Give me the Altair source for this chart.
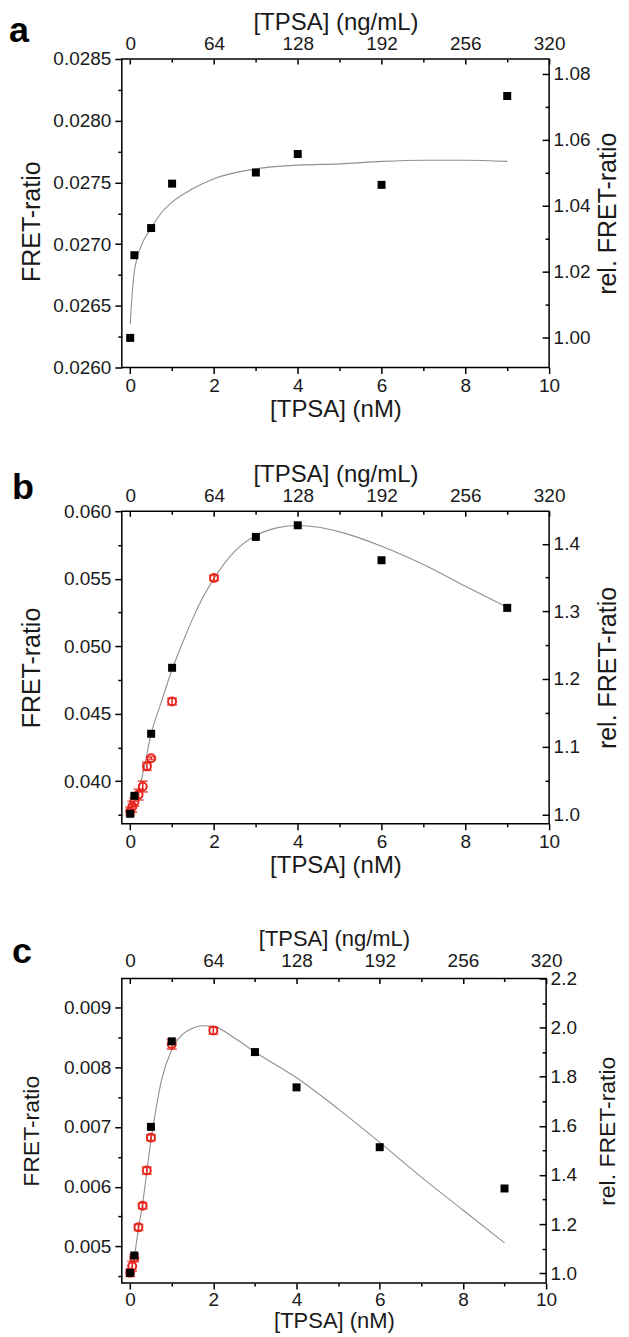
import altair as alt
import pandas as pd

FONT = "Liberation Sans"
RED = "#e8261e"
GREY = "#909090"
XDOM = [-0.2, 10]

# ---------------- panel a ----------------
a_x = [0, 0.1, 0.5, 1, 3, 4, 6, 9]
a_y = [0.02624, 0.02691, 0.02713, 0.02749, 0.02758, 0.02773, 0.02748, 0.02820]
a_fit_x = [0, 0.05, 0.1, 0.16, 0.28, 0.5, 0.76, 1, 1.5, 2, 3, 4, 5, 6, 7, 8, 9]
a_fit_y = [0.02635, 0.02661, 0.02678, 0.02688, 0.02700, 0.02713, 0.02726, 0.02734,
           0.02745, 0.02753, 0.02761, 0.02764, 0.02765, 0.02767, 0.02768, 0.02768, 0.02767]
a_ydom = [0.0260, 0.0285]
a_rdom = [0.991, 1.0845]
a_yt = [0.0260, 0.0265, 0.0270, 0.0275, 0.0280, 0.0285]
a_ym = [0.02625, 0.02675, 0.02725, 0.02775, 0.02825]
a_rt = [1.00, 1.02, 1.04, 1.06, 1.08]
a_rm = [1.01, 1.03, 1.05, 1.07]

# ---------------- panel b ----------------
b_x = [0, 0.1, 0.5, 1, 3, 4, 6, 9]
b_y = [0.03758, 0.03891, 0.04351, 0.04840, 0.05810, 0.05896, 0.05637, 0.05284]
b_red_x = [0, 0.05, 0.1, 0.2, 0.3, 0.4, 0.5, 1, 2]
b_red_y = [0.03775, 0.03810, 0.03845, 0.03900, 0.03960, 0.04110, 0.04170, 0.04590, 0.05506]
b_red_err = [0.0003, 0.0004, 0.0003, 0.0004, 0.0004, 0.0003, 0.0001, 0.00025, 0.0002]
b_fit_x = [0, 0.1, 0.28, 0.5, 0.75, 1, 1.25, 1.5, 1.75, 2, 2.5, 3, 3.5, 4, 4.5, 5, 6, 7, 8, 9]
b_fit_y = [0.03745, 0.03852, 0.04025, 0.04351, 0.04593, 0.04827, 0.05025, 0.05210, 0.05370,
           0.05501, 0.05704, 0.05820, 0.05877, 0.05894, 0.05881, 0.05847, 0.05741, 0.05605,
           0.05444, 0.05289]
b_ydom = [0.03684, 0.0600]
b_rdom = [0.986, 1.448]
b_yt = [0.040, 0.045, 0.050, 0.055, 0.060]
b_ym = [0.0375, 0.0425, 0.0475, 0.0525, 0.0575]
b_rt = [1.0, 1.1, 1.2, 1.3, 1.4]
b_rm = [1.05, 1.15, 1.25, 1.35]

# ---------------- panel c ----------------
c_x = [0, 0.1, 0.5, 1, 3, 4, 6, 9]
c_y = [0.00456, 0.00485, 0.00700, 0.00843, 0.00825, 0.00766, 0.00666, 0.00597]
c_red_x = [0, 0.05, 0.1, 0.2, 0.3, 0.4, 0.5, 1, 2]
c_red_y = [0.00456, 0.00467, 0.00481, 0.00532, 0.00568, 0.00627, 0.00682, 0.00838, 0.00861]
c_red_err = [0.00006, 0.00008, 0.00006, 0.00005, 0.00005, 0.00006, 0.00005, 0.00008, 0.00006]
c_fit_x = [0, 0.1, 0.2, 0.3, 0.4, 0.5, 0.6, 0.75, 1, 1.25, 1.5, 1.75, 2, 2.5, 3, 4, 5, 6, 7, 8, 9]
c_fit_y = [0.00453, 0.00483, 0.00530, 0.00572, 0.00624, 0.00677, 0.00721, 0.00777, 0.00829,
           0.00854, 0.00865, 0.00869, 0.00868, 0.00849, 0.00825, 0.00782, 0.00730, 0.00674,
           0.00616, 0.00561, 0.00506]
c_ydom = [0.00439, 0.00948]
c_rdom = [0.96, 2.2]
c_yt = [0.005, 0.006, 0.007, 0.008, 0.009]
c_ym = [0.0045, 0.0055, 0.0065, 0.0075, 0.0085]
c_rt = [1.0, 1.2, 1.4, 1.6, 1.8, 2.0, 2.2]
c_rm = [1.1, 1.3, 1.5, 1.7, 1.9, 2.1]

x_major = [0, 2, 4, 6, 8, 10]
x_minor = [1, 3, 5, 7, 9]

LEFT_TITLE_CX = 31
RIGHT_TITLE_CX = 607
PLOT_LEFT = 121


def xenc(field, axis=None):
    return alt.X(field, type="quantitative",
                 scale=alt.Scale(domain=XDOM, nice=False, zero=False), axis=axis)


def yenc(field, dom, axis=None):
    return alt.Y(field, type="quantitative",
                 scale=alt.Scale(domain=dom, nice=False, zero=False), axis=axis)


def axis_layer(dom, xaxis, yaxis):
    df = pd.DataFrame({"x": [XDOM[0] + 0.01], "y": [dom[0] + (dom[1] - dom[0]) * 0.01]})
    return alt.Chart(df).mark_point(opacity=0, size=1).encode(
        x=xenc("x", xaxis), y=yenc("y", dom, yaxis))


def panel(letter, ldx, ldy, bx, by, fx, fy, rx, ry, rerr, ydom, rdom, yt, ym, rt, rm,
          yfmt, rfmt, W, H, bottom_dy, top_dy, vtitle_size, left_dy, htitle_size, blabel_pad,
          tlabel_pad):
    layers = []
    fit = pd.DataFrame({"x": fx, "y": fy})
    layers.append(alt.Chart(fit).mark_line(color=GREY, strokeWidth=1.1, interpolate="monotone")
                  .encode(x=xenc("x"), y=yenc("y", ydom)))
    if rx is not None:
        red = pd.DataFrame({"x": rx, "y": ry,
                            "lo": [v - e for v, e in zip(ry, rerr)],
                            "hi": [v + e for v, e in zip(ry, rerr)]})
        layers.append(alt.Chart(red).mark_rule(color=RED, strokeWidth=1.6)
                      .encode(x=xenc("x"), y=yenc("lo", ydom), y2="hi"))
        layers.append(alt.Chart(red).mark_tick(color=RED, orient="horizontal", size=10, thickness=1.8)
                      .encode(x=xenc("x"), y=yenc("lo", ydom)))
        layers.append(alt.Chart(red).mark_tick(color=RED, orient="horizontal", size=10, thickness=1.8)
                      .encode(x=xenc("x"), y=yenc("hi", ydom)))
        layers.append(alt.Chart(red).mark_point(shape="circle", filled=False, color=RED,
                                                 strokeWidth=2, size=64, opacity=1)
                      .encode(x=xenc("x"), y=yenc("y", ydom)))
    blk = pd.DataFrame({"x": bx, "y": by})
    layers.append(alt.Chart(blk).mark_square(color="black", size=64, opacity=1)
                  .encode(x=xenc("x"), y=yenc("y", ydom)))

    # bottom + left (outward, labelled)
    layers.append(axis_layer(
        ydom,
        alt.Axis(orient="bottom", values=x_major, format="d", tickSize=6, labelPadding=blabel_pad,
                 title="[TPSA] (nM)", titleY=bottom_dy, titleBaseline="middle",
                 titleFontSize=htitle_size),
        alt.Axis(orient="left", values=yt, format=yfmt, tickSize=7, labelPadding=4,
                 title="FRET-ratio", titleX=LEFT_TITLE_CX - PLOT_LEFT, titleY=H / 2 + left_dy,
                 titleBaseline="middle", titleFontSize=vtitle_size)))
    # bottom + left minor
    layers.append(axis_layer(
        ydom,
        alt.Axis(orient="bottom", values=x_minor, labels=False, tickSize=3, title=None),
        alt.Axis(orient="left", values=ym, labels=False, tickSize=4, title=None)))
    # top + right labels
    layers.append(axis_layer(
        rdom,
        alt.Axis(orient="top", values=x_major, ticks=False, labelPadding=tlabel_pad,
                 labelExpr="format(datum.value * 32, 'd')",
                 title="[TPSA] (ng/mL)", titleY=top_dy, titleBaseline="middle",
                 titleFontSize=htitle_size),
        alt.Axis(orient="right", values=rt, format=rfmt, ticks=False, labelPadding=4,
                 title="rel. FRET-ratio", titleAngle=270,
                 titleX=RIGHT_TITLE_CX - (PLOT_LEFT + W), titleY=H / 2,
                 titleBaseline="middle", titleFontSize=vtitle_size)))
    # top + right inward major ticks
    layers.append(axis_layer(
        rdom,
        alt.Axis(orient="bottom", offset=-H, values=x_major, labels=False, tickSize=5, title=None),
        alt.Axis(orient="left", offset=-W, values=rt, labels=False, tickSize=7, title=None)))
    # top + right inward minor ticks
    layers.append(axis_layer(
        rdom,
        alt.Axis(orient="bottom", offset=-H, values=x_minor, labels=False, tickSize=3, title=None),
        alt.Axis(orient="left", offset=-W, values=rm, labels=False, tickSize=4, title=None)))
    # panel letter
    layers.append(alt.Chart(pd.DataFrame({"t": [letter]})).mark_text(
        align="left", baseline="alphabetic", fontSize=36, fontWeight="bold", font=FONT,
        color="black").encode(text="t:N", x=alt.value(ldx), y=alt.value(ldy)))

    return alt.layer(*layers).resolve_scale(x="independent", y="independent").properties(
        width=W, height=H)


pa = panel("a", -113, -17, a_x, a_y, a_fit_x, a_fit_y, None, None, None,
           a_ydom, a_rdom, a_yt, a_ym, a_rt, a_rm, ".4f", ".2f", 428, 309, 42, -37, 25, 8, 24, 3, 6)
pb = panel("b", -110, -12, b_x, b_y, b_fit_x, b_fit_y, b_red_x, b_red_y, b_red_err,
           b_ydom, b_rdom, b_yt, b_ym, b_rt, b_rm, ".3f", ".1f", 428, 313, 42, -37, 25, 0, 24, 3, 6)
pc = panel("c", -110, -16, c_x, c_y, c_fit_x, c_fit_y, c_red_x, c_red_y, c_red_err,
           c_ydom, c_rdom, c_yt, c_ym, c_rt, c_rm, ".3f", ".1f", 425, 305, 38, -40, 23, 0, 22, 2, 8)

chart = alt.vconcat(alt.vconcat(pa, pb, spacing=39), pc, spacing=48).properties(
    padding={"left": 0, "top": 0, "right": 0, "bottom": 0}
).configure_view(
    stroke="black", strokeWidth=1.5
).configure_axis(
    grid=False, domain=False, labelFont=FONT, titleFont=FONT, labelFontSize=19,
    titleFontSize=24, titleFontWeight="normal", labelColor="#1a1a1a", titleColor="#1a1a1a",
    tickColor="black", tickWidth=1.5, labelFlush=False, labelOverlap=False
)

chart.save("out.html", embed_options={"renderer": "svg", "actions": False})
